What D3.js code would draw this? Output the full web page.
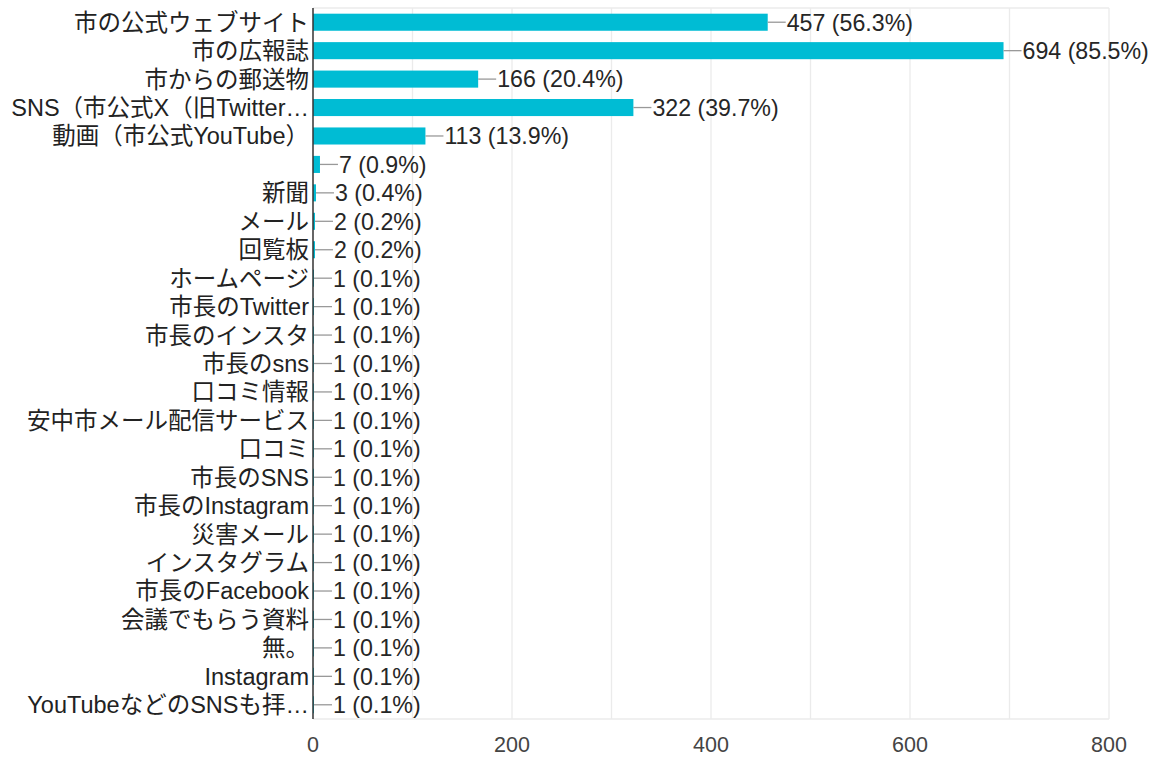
<!DOCTYPE html>
<html>
<head>
<meta charset="utf-8">
<script src="https://cdn.jsdelivr.net/npm/d3@7"></script>
<style>
  body { margin: 0; background: #fff; }
  text { font-family: "Liberation Sans", Arial, "Noto Sans CJK JP", sans-serif; }
</style>
</head>
<body>
<script>
const categories = [
  "市の公式ウェブサイト", "市の広報誌", "市からの郵送物", "SNS（市公式X（旧Twitter…",
  "動画（市公式YouTube）", "", "新聞", "メール", "回覧板", "ホームページ",
  "市長のTwitter", "市長のインスタ", "市長のsns", "口コミ情報", "安中市メール配信サービス",
  "口コミ", "市長のSNS", "市長のInstagram", "災害メール", "インスタグラム",
  "市長のFacebook", "会議でもらう資料", "無。", "Instagram", "YouTubeなどのSNSも拝…"
];
const counts = [457, 694, 166, 322, 113, 7, 3, 2, 2, 1, 1, 1, 1, 1, 1, 1, 1, 1, 1, 1, 1, 1, 1, 1, 1];
const percents = ["56.3", "85.5", "20.4", "39.7", "13.9", "0.9", "0.4", "0.2", "0.2",
  "0.1", "0.1", "0.1", "0.1", "0.1", "0.1", "0.1", "0.1", "0.1", "0.1", "0.1",
  "0.1", "0.1", "0.1", "0.1", "0.1"];
const xTicks = [0, 200, 400, 600, 800];

const W = 1153, H = 757;
const plotLeft = 313, plotRight = 1109, plotTop = 8, plotBottom = 719;

let svg = d3.select('body').append('svg')
  .attr('width', W).attr('height', H);

let x = d3.scaleLinear().domain([0, 800]).range([plotLeft, plotRight]);
let y = d3.scaleBand().domain(d3.range(categories.length)).range([plotTop, plotBottom])
  .paddingInner(0.4).paddingOuter(0.2);

// grid
svg.append('g').selectAll('line').data(d3.range(100, 801, 100)).enter().append('line')
  .attr('x1', d => x(d)).attr('x2', d => x(d))
  .attr('y1', plotTop).attr('y2', plotBottom)
  .attr('stroke', '#ebebeb').attr('stroke-width', 1.3);
svg.append('line').attr('x1', plotLeft).attr('x2', plotRight).attr('y1', plotTop).attr('y2', plotTop)
  .attr('stroke', '#ebebeb').attr('stroke-width', 1.3);
svg.append('line').attr('x1', plotLeft).attr('x2', plotRight).attr('y1', plotBottom).attr('y2', plotBottom)
  .attr('stroke', '#ebebeb').attr('stroke-width', 1.3);

// bars
svg.append('g').selectAll('rect').data(counts).enter().append('rect')
  .attr('x', x(0))
  .attr('y', (d, i) => y(i))
  .attr('width', d => x(d) - x(0))
  .attr('height', y.bandwidth())
  .attr('fill', '#00bcd4');

// leader lines + value labels
svg.append('g').selectAll('line').data(counts).enter().append('line')
  .attr('x1', d => x(d)).attr('x2', d => x(d) + 18)
  .attr('y1', (d, i) => y(i) + y.bandwidth() / 2)
  .attr('y2', (d, i) => y(i) + y.bandwidth() / 2)
  .attr('stroke', '#999').attr('stroke-width', 1.3);

svg.append('g').selectAll('text').data(counts).enter().append('text')
  .attr('x', d => x(d) + 19)
  .attr('y', (d, i) => y(i) + y.bandwidth() / 2)
  .attr('dy', '0.36em')
  .attr('font-size', 23.2)
  .attr('fill', '#262626')
  .text((d, i) => d + ' (' + percents[i] + '%)');

// category labels
svg.append('g').selectAll('text').data(categories).enter().append('text')
  .attr('x', plotLeft - 4)
  .attr('y', (d, i) => y(i) + y.bandwidth() / 2)
  .attr('dy', '0.36em')
  .attr('text-anchor', 'end')
  .attr('font-size', 23.5)
  .attr('fill', '#222')
  .text(d => d);

// axis line
svg.append('line').attr('x1', plotLeft).attr('x2', plotLeft).attr('y1', plotTop).attr('y2', plotBottom)
  .attr('stroke', '#333').attr('stroke-width', 1.5);

// x tick labels
svg.append('g').selectAll('text').data(xTicks).enter().append('text')
  .attr('x', d => x(d))
  .attr('y', 744)
  .attr('dy', '0.36em')
  .attr('text-anchor', 'middle')
  .attr('font-size', 21.5)
  .attr('fill', '#444')
  .text(d => d);
</script>
</body>
</html>
